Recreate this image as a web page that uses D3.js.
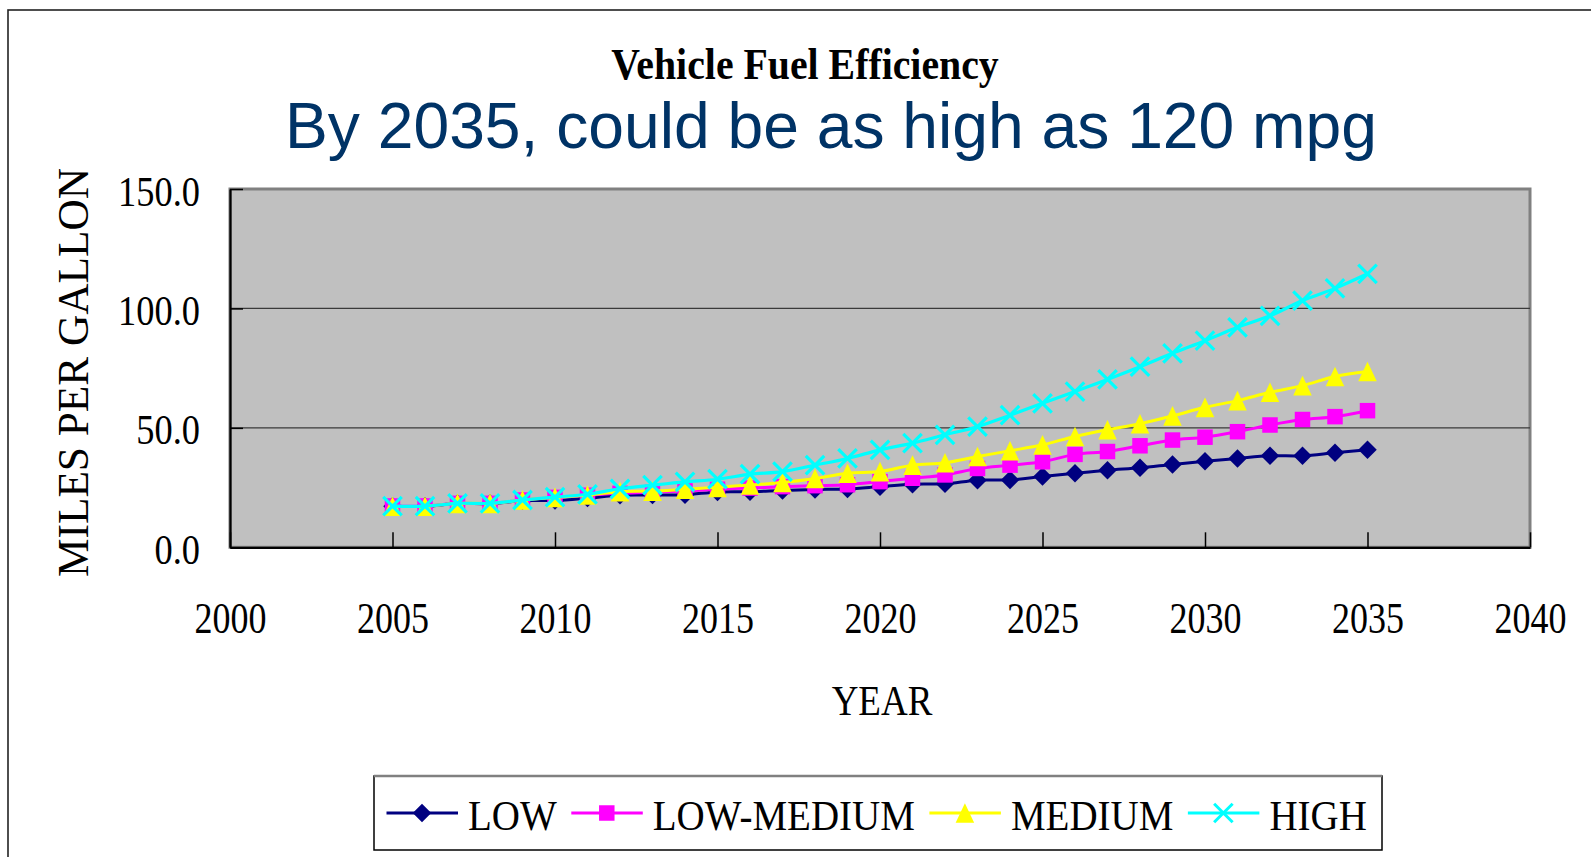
<!DOCTYPE html>
<html>
<head>
<meta charset="utf-8">
<script src="https://cdn.jsdelivr.net/npm/d3@7"></script>
<style>
html, body { margin: 0; padding: 0; background: #ffffff; }
svg { display: block; }
</style>
</head>
<body>
<svg id="chart" width="1591" height="857"></svg>
<script>
// ---------------- DATA ----------------
const years = [2005, 2006, 2007, 2008, 2009, 2010, 2011, 2012, 2013, 2014,
               2015, 2016, 2017, 2018, 2019, 2020, 2021, 2022, 2023, 2024,
               2025, 2026, 2027, 2028, 2029, 2030, 2031, 2032, 2033, 2034, 2035];
const lowValues = [17.2, 17.2, 18.3, 18.3, 19.5, 19.6, 20.6, 21.8, 21.9, 22.0,
                   23.2, 23.3, 23.8, 24.2, 24.4, 25.4, 26.4, 26.6, 28.1, 28.2,
                   29.6, 31.0, 32.3, 33.3, 34.7, 36.0, 37.2, 38.3, 38.3, 39.6, 40.8];
const lowMediumValues = [17.3, 17.3, 18.4, 18.4, 19.8, 20.9, 21.8, 22.6, 23.0, 23.6,
                         24.3, 24.8, 25.4, 25.8, 26.2, 27.5, 28.9, 30.3, 33.0, 34.4,
                         35.8, 38.9, 40.1, 42.5, 44.9, 46.1, 48.4, 51.2, 53.5, 54.7, 57.2];
const mediumValues = [17.2, 17.2, 18.4, 18.4, 19.8, 20.9, 21.9, 23.3, 23.5, 24.3,
                      25.1, 26.1, 27.1, 28.8, 31.0, 31.7, 34.4, 35.4, 38.0, 40.4,
                      42.9, 46.4, 49.2, 51.7, 55.0, 58.6, 61.4, 64.9, 67.7, 71.5, 73.6];
const highValues = [17.2, 17.2, 18.4, 18.4, 19.8, 21.0, 22.2, 24.5, 26.0, 27.4,
                    28.5, 30.6, 31.7, 34.4, 37.2, 40.8, 43.6, 47.1, 50.5, 55.3,
                    60.3, 65.2, 70.3, 75.6, 81.2, 86.5, 92.1, 96.9, 103.3, 108.4, 114.5];
const seriesNames = ["LOW", "LOW-MEDIUM", "MEDIUM", "HIGH"];
const xTickValues = [2000, 2005, 2010, 2015, 2020, 2025, 2030, 2035, 2040];
const yTickValues = [0, 50, 100, 150];
const gridValues = [50, 100];
const titleText = "Vehicle Fuel Efficiency";
const subtitleText = "By 2035, could be as high as 120 mpg";
const xAxisTitle = "YEAR";
const yAxisTitle = "MILES PER GALLON";

// ---------------- STYLES ----------------
const serif = "'Liberation Serif', 'Times New Roman', Times, serif";
const sans = "'Liberation Sans', Arial, Helvetica, sans-serif";

const diamondType = { draw(ctx, size) { const r = Math.sqrt(size) / 2;
  ctx.moveTo(0, -r); ctx.lineTo(r, 0); ctx.lineTo(0, r); ctx.lineTo(-r, 0); ctx.closePath(); } };
const squareType = { draw(ctx, size) { const r = Math.sqrt(size) / 2;
  ctx.moveTo(-r, -r); ctx.lineTo(r, -r); ctx.lineTo(r, r); ctx.lineTo(-r, r); ctx.closePath(); } };
const triangleType = { draw(ctx, size) { const w = Math.sqrt(size) / 2, h = w * 1.06;
  ctx.moveTo(0, -h); ctx.lineTo(w, h); ctx.lineTo(-w, h); ctx.closePath(); } };
const crossType = { draw(ctx, size) { const r = Math.sqrt(size) / 2;
  ctx.moveTo(-r, -r); ctx.lineTo(r, r); ctx.moveTo(r, -r); ctx.lineTo(-r, r); } };

const seriesStyles = [
  { color: "#000080", type: diamondType, size: 18.5 * 18.5, filled: true, width: 3 },
  { color: "#FF00FF", type: squareType, size: 15.5 * 15.5, filled: true, width: 3 },
  { color: "#FFFF00", type: triangleType, size: 18.5 * 18.5, filled: true, width: 3 },
  { color: "#00FFFF", type: crossType, size: 18.5 * 18.5, filled: false, width: 3.2 }
];
const seriesData = [lowValues, lowMediumValues, mediumValues, highValues];

// ---------------- LAYOUT ----------------
const W = 1591, H = 857;
const plot = { left: 230, right: 1530, top: 189, bottom: 547.3 };

const svg = d3.select("#chart");

// outer frame (extends beyond right/bottom edges)
svg.append("rect")
  .attr("x", 8).attr("y", 10).attr("width", W + 40).attr("height", H + 40)
  .attr("fill", "none").attr("stroke", "#222").attr("stroke-width", 1.6);

const x = d3.scaleLinear().domain([2000, 2040]).range([plot.left, plot.right]);
const y = d3.scaleLinear().domain([0, 150]).range([plot.bottom, plot.top]);

// titles
svg.append("text")
  .attr("transform", `translate(${805},${78.5}) scale(1,1.1)`)
  .attr("text-anchor", "middle")
  .style("font-family", serif).style("font-weight", "bold").style("font-size", "39.8px")
  .attr("fill", "#000").text(titleText);

svg.append("text")
  .attr("x", 831).attr("y", 148)
  .attr("text-anchor", "middle")
  .style("font-family", sans).style("font-size", "64.2px")
  .attr("fill", "#003366").text(subtitleText);

// plot background
svg.append("rect")
  .attr("x", plot.left).attr("y", plot.top)
  .attr("width", plot.right - plot.left).attr("height", plot.bottom - plot.top)
  .attr("fill", "#C0C0C0").attr("stroke", "#808080").attr("stroke-width", 3);

// gridlines
svg.append("g").selectAll("line").data(gridValues).join("line")
  .attr("x1", plot.left).attr("x2", plot.right)
  .attr("y1", d => y(d)).attr("y2", d => y(d))
  .attr("stroke", "#3a3a3a").attr("stroke-width", 1.3);

// x axis
const xAxis = svg.append("g")
  .attr("transform", `translate(0,${plot.bottom})`)
  .call(d3.axisBottom(x).tickValues(xTickValues).tickFormat(d3.format("d"))
        .tickSizeInner(-15).tickSizeOuter(0));
xAxis.select(".domain").attr("stroke", "#000").attr("stroke-width", 2.2);
xAxis.selectAll(".tick line").attr("stroke", "#000").attr("stroke-width", 1.5);
xAxis.selectAll(".tick text")
  .attr("y", 0).attr("dy", null)
  .attr("transform", `translate(0,${633.3 - plot.bottom}) scale(1,1.22)`)
  .style("font-family", serif).style("font-size", "36px").attr("fill", "#000");

// y axis
const yAxis = svg.append("g")
  .attr("transform", `translate(${plot.left},0)`)
  .call(d3.axisLeft(y).tickValues(yTickValues).tickFormat(d3.format(".1f"))
        .tickSizeInner(-13).tickSizeOuter(0));
yAxis.select(".domain").attr("stroke", "#000").attr("stroke-width", 2.2);
yAxis.selectAll(".tick line").attr("stroke", "#000").attr("stroke-width", 1.5);
yAxis.selectAll(".tick text")
  .attr("x", 0).attr("dy", null).attr("y", 0)
  .attr("transform", `translate(-30,16) scale(1,1.14)`)
  .style("font-family", serif).style("font-size", "36.4px").attr("fill", "#000");

// axis titles
svg.append("text")
  .attr("transform", `translate(882,715) scale(1,1.15)`)
  .attr("text-anchor", "middle")
  .style("font-family", serif).style("font-size", "37px")
  .attr("fill", "#000").text(xAxisTitle);

svg.append("text")
  .attr("transform", `translate(88,372.5) rotate(-90)`)
  .attr("text-anchor", "middle")
  .style("font-family", serif).style("font-size", "43.3px")
  .attr("fill", "#000").text(yAxisTitle);

// series
const line = d3.line()
  .x((d, i) => x(years[i]))
  .y(d => y(d))
  .curve(d3.curveCatmullRom.alpha(0.5));

const seriesG = svg.append("g");
seriesData.forEach((vals, si) => {
  const st = seriesStyles[si];
  const g = seriesG.append("g");
  g.append("path").datum(vals)
    .attr("d", line).attr("fill", "none")
    .attr("stroke", st.color).attr("stroke-width", st.width)
    .attr("stroke-linejoin", "round");
  g.selectAll("path.m").data(vals).join("path")
    .attr("class", "m")
    .attr("transform", (d, i) => `translate(${x(years[i])},${y(d)})`)
    .attr("d", d3.symbol().type(st.type).size(st.size))
    .attr("fill", st.filled ? st.color : "none")
    .attr("stroke", st.filled ? "none" : st.color)
    .attr("stroke-width", st.filled ? 0 : 3.2);
});

// legend
const legend = { left: 374, top: 776, right: 1382, bottom: 850 };
svg.append("rect")
  .attr("x", legend.left).attr("y", legend.top)
  .attr("width", legend.right - legend.left).attr("height", legend.bottom - legend.top)
  .attr("fill", "#fff").attr("stroke", "#000").attr("stroke-width", 1.5);
svg.append("line")
  .attr("x1", legend.left).attr("x2", legend.right)
  .attr("y1", legend.top).attr("y2", legend.top)
  .attr("stroke", "#808080").attr("stroke-width", 2.5);

let cursor = 386.5;
const legendY = 813;
seriesNames.forEach((name, si) => {
  const st = seriesStyles[si];
  const g = svg.append("g");
  g.append("line")
    .attr("x1", cursor).attr("x2", cursor + 71.5)
    .attr("y1", legendY).attr("y2", legendY)
    .attr("stroke", st.color).attr("stroke-width", 3);
  g.append("path")
    .attr("transform", `translate(${cursor + 35.5},${legendY})`)
    .attr("d", d3.symbol().type(st.type).size(st.size))
    .attr("fill", st.filled ? st.color : "none")
    .attr("stroke", st.filled ? "none" : st.color)
    .attr("stroke-width", st.filled ? 0 : 3);
  const t = g.append("text")
    .attr("transform", `translate(${cursor + 81.5},830) scale(1,1.085)`)
    .style("font-family", serif).style("font-size", "39px")
    .attr("fill", "#000").text(name);
  cursor = cursor + 81.5 + t.node().getComputedTextLength() + 14.5;
});
</script>
</body>
</html>
